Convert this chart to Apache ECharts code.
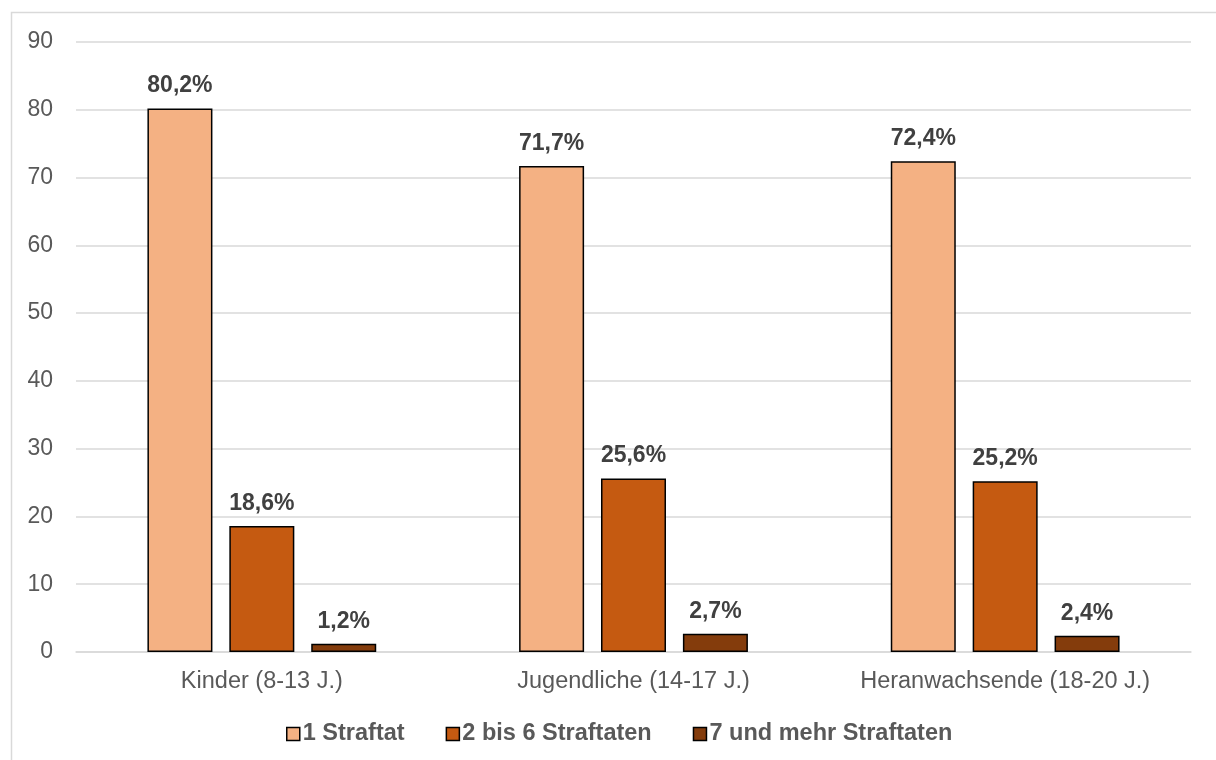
<!DOCTYPE html>
<html><head><meta charset="utf-8">
<script src="https://cdn.jsdelivr.net/npm/echarts@6/dist/echarts.min.js"></script>
<style>html,body{margin:0;padding:0;background:#fff}#c{width:1216px;height:760px}</style>
</head><body><div id="c"></div>
<script>
const categories = ['Kinder (8-13 J.)', 'Jugendliche (14-17 J.)', 'Heranwachsende (18-20 J.)'];
const seriesNames = ['1 Straftat', '2 bis 6 Straftaten', '7 und mehr Straftaten'];
const s1 = [80.2, 71.7, 72.4];
const s2 = [18.6, 25.6, 25.2];
const s3 = [1.2, 2.7, 2.4];
const colors = ['#F4B183', '#C55A11', '#843C0C'];
const font = 'Liberation Sans, Arial, sans-serif';
const chart = echarts.init(document.getElementById('c'));
const mk = (name, data, color) => ({
  name, type: 'bar', data, barWidth: 65, barGap: '26%',
  itemStyle: { color, borderColor: '#000', borderWidth: 1.5 },
  label: { show: true, position: 'top', distance: 11, fontFamily: font, fontSize: 23, fontWeight: 'bold', color: '#404040',
    formatter: p => p.value.toFixed(1).replace('.', ',') + '%' }
});
chart.setOption({
  animation: false,
  graphic: [{ type: 'rect', shape: { x: 11.5, y: 12.5, width: 1300, height: 900 }, style: { fill: 'none', stroke: '#d9d9d9', lineWidth: 1.5 }, silent: true }],
  grid: { left: 76, right: 25, top: 42, bottom: 108, containLabel: false },
  legend: { top: 717, left: 281, itemWidth: 13, itemHeight: 13, itemGap: 41,
    textStyle: { fontFamily: font, fontSize: 23.5, fontWeight: 'bold', color: '#595959', padding: [0,0,0,-2] },
    data: seriesNames.map((n, i) => ({ name: n, icon: 'rect', itemStyle: { color: colors[i], borderColor: '#000', borderWidth: 1.5 } })) },
  xAxis: { type: 'category', data: categories,
    axisLine: { lineStyle: { color: '#d9d9d9', width: 1.5 } }, axisTick: { show: false },
    axisLabel: { interval: 0, hideOverlap: false, fontFamily: font, fontSize: 23.5, color: '#595959', margin: 18 } },
  yAxis: { type: 'value', min: 0, max: 90, interval: 10,
    axisLine: { show: false }, axisTick: { show: false },
    splitLine: { lineStyle: { color: '#d9d9d9', width: 1.5 } },
    axisLabel: { fontFamily: font, fontSize: 23, color: '#595959', margin: 23 } },
  series: [mk(seriesNames[0], s1, colors[0]), mk(seriesNames[1], s2, colors[1]), mk(seriesNames[2], s3, colors[2])]
});
</script></body></html>
